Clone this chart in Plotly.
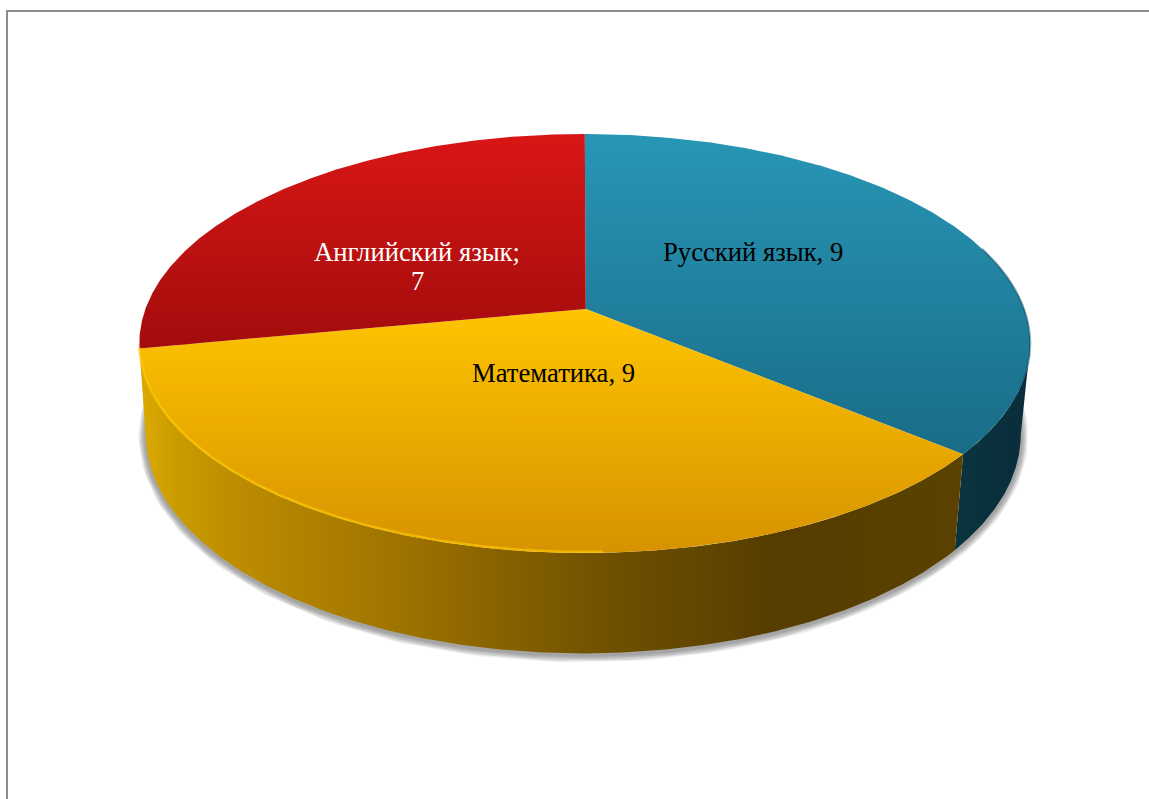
import numpy as np
import plotly.graph_objects as go

categories = ["Русский язык", "Математика", "Английский язык"]
values = [9, 9, 7]
face_colors = [
    ["#2896b6", "#196c86"],
    ["#ffc400", "#d69300"],
    ["#d91616", "#a20c0c"],
]
side_scales = [
    [[0, "#0a3340"], [1, "#0a2d3a"]],
    [[0, "#dcaa00"], [0.05, "#c99a00"], [0.12, "#bd8c00"], [0.3, "#a17500"], [0.55, "#735300"],
     [0.78, "#553c00"], [1, "#5c4200"]],
    None,
]
label_colors = ["black", "black", "white"]

# projection of the pie's disc onto the page
CX, CY = 584.8, 309
A, P, Q = 439.4, 0.1647, 203.8
SX, SY, DX, DY = 0.982, 1.045, -1.5, 89.5


def top(t):
    X, Y = np.sin(t), -np.cos(t)
    d = 1 - P * Y
    return CX + A * X / d, CY + Q * Y / d


def bottom(t):
    x, y = top(t)
    return CX + DX + (x - CX) * SX, CY + DY + (y - CY) * SY


fig = go.Figure()
ang = np.radians(360 * np.cumsum([0] + values) / sum(values))
T_RIGHT = np.radians(99.5)

# soft shadow under the drum
ts = np.linspace(np.radians(70), np.radians(290), 400)
sx, sy = bottom(ts)
for w in [15, 13, 11, 9, 7, 5, 3]:
    fig.add_trace(go.Scatter(x=sx, y=sy + 1.5, mode="lines",
                             line=dict(color="rgba(90,90,90,0.10)", width=w), hoverinfo="skip"))

# drum sides
for i in (0, 1):
    t0 = max(ang[i], T_RIGHT)
    t = np.linspace(t0, ang[i + 1], 240)
    xt, yt = top(t)
    xb, yb = bottom(t[::-1])
    xs = np.r_[xt, xb, xt[0]]
    ys = np.r_[yt, yb, yt[0]]
    fig.add_trace(go.Scatter(x=xs, y=ys, mode="lines", fill="toself", line=dict(width=0),
                             fillgradient=dict(type="horizontal", colorscale=side_scales[i],
                                               start=float(xs.min()), stop=float(xs.max())),
                             hoverinfo="skip"))

# top faces
for i in range(3):
    t = np.linspace(ang[i], ang[i + 1], 300)
    xt, yt = top(t)
    xs = np.r_[CX + 1, xt, CX + 1]
    ys = np.r_[CY, yt, CY]
    c0, c1 = face_colors[i]
    fig.add_trace(go.Scatter(x=xs, y=ys, mode="lines", fill="toself", line=dict(width=0),
                             fillgradient=dict(type="vertical", colorscale=[[0, c0], [1, c1]],
                                               start=float(ys.min()), stop=float(ys.max())),
                             hoverinfo="skip"))

# bevel along the rim
t = np.linspace(np.radians(178), ang[2], 300)
xt, yt = top(t)
fig.add_trace(go.Scatter(x=xt, y=yt - 1, mode="lines", line=dict(color="rgba(255,200,0,0.65)", width=2.5),
                         hoverinfo="skip"))
t = np.linspace(np.radians(72), np.radians(112), 120)
xt, yt = top(t)
fig.add_trace(go.Scatter(x=xt, y=yt, mode="lines", line=dict(color="rgba(10,60,80,0.4)", width=2),
                         hoverinfo="skip"))

# labels
label_pos = [(753, 252), (553.5, 373), (417, 252)]
for i, (cat, val) in enumerate(zip(categories, values)):
    x, y = label_pos[i]
    if i == 2:
        texts = [(f"{cat};", y), (str(val), y + 29)]
    else:
        texts = [(f"{cat}, {val}", y)]
    for s, yy in texts:
        fig.add_annotation(x=x, y=yy, text=s, showarrow=False, xanchor="center", yanchor="middle",
                           font=dict(family="Liberation Serif", size=26.67, color=label_colors[i]))

fig.update_layout(
    width=1149, height=799, margin=dict(l=0, r=0, t=0, b=0),
    paper_bgcolor="white", plot_bgcolor="white", showlegend=False,
    xaxis=dict(range=[0, 1149], visible=False, fixedrange=True),
    yaxis=dict(range=[799, 0], visible=False, fixedrange=True),
    shapes=[
        dict(type="line", xref="x", yref="y", x0=7, x1=1149, y0=11, y1=11,
             line=dict(color="#8c8c8c", width=2)),
        dict(type="line", xref="x", yref="y", x0=7, x1=7, y0=10, y1=799,
             line=dict(color="#8c8c8c", width=2)),
    ],
)
fig.write_html("out.html", config=dict(displayModeBar=False),
               post_script="document.body.style.margin='0';document.body.style.overflow='hidden';")
